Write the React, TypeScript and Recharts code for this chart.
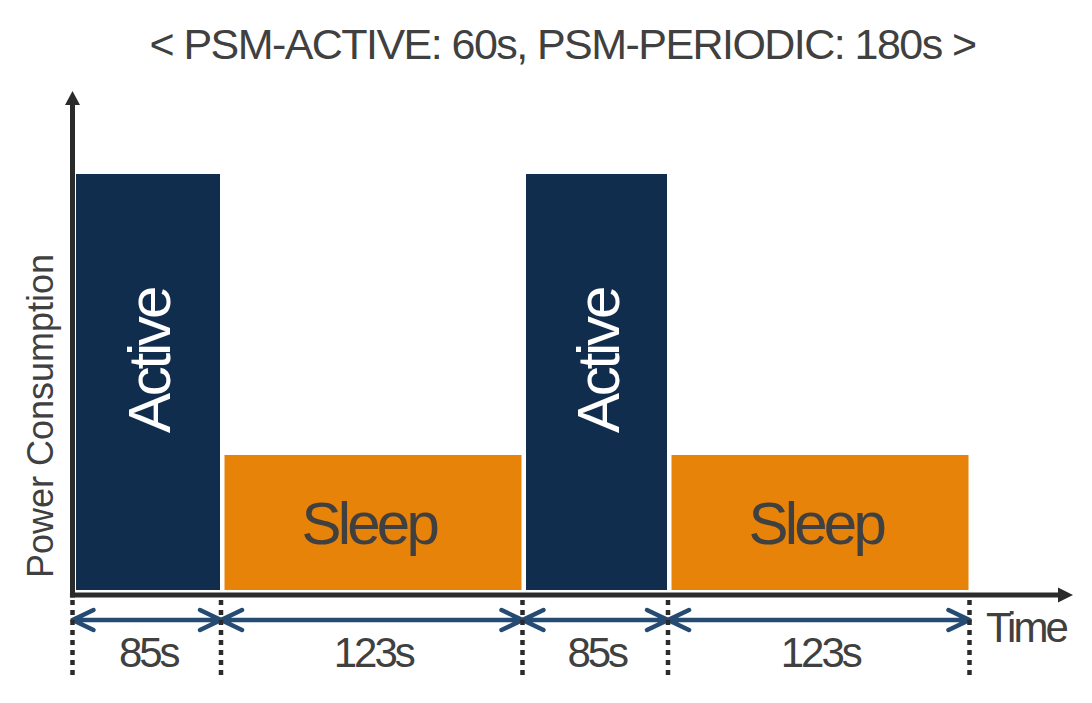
import React from 'react';
import { ComposedChart, XAxis, YAxis, ReferenceArea, ReferenceLine, ReferenceDot } from 'recharts';

// ---- data ----
const titleText = '< PSM-ACTIVE: 60s, PSM-PERIODIC: 180s >';
const xAxisTitle = 'Time';
const yAxisTitle = 'Power Consumption';
const phaseNames = ['Active', 'Sleep', 'Active', 'Sleep'];
const phaseStart = [0, 0.99, 3, 3.97];
const phaseEnd = [0.99, 3, 3.97, 5.98];
const phasePower = [100, 33.1, 100, 33.1];
const durationLabels = ['85s', '123s', '85s', '123s'];
const boundaries = [0, 0.99, 3, 3.97, 5.98];

// ---- layout constants ----
const X_DOMAIN: [number, number] = [0, 6.67];
const Y_DOMAIN: [number, number] = [-20.95, 119.29];
const AXIS_Y = -0.714;
const ARROW_ROW = [-6.2, -7.14];
const LABEL_ROW = [-11.3, -17.3];
const DOT_TOP = -1.9;
const DOT_BOTTOM = -19.76;
const X_ARROW_END = 6.57;
const Y_ARROW_END = 115.95;

const FONT = '"Liberation Sans", Arial, Helvetica, sans-serif';
const NAVY = '#112d4e';
const ORANGE = '#e8830a';
const GRAY = '#404040';
const AXIS = '#2b2b2b';
const BLUE = '#264b73';

const phaseColor = (name: string) => (name === 'Active' ? NAVY : ORANGE);

const makeBarShape = (name: string) => (p: any) => {
  const cx = p.x + p.width / 2;
  const cy = p.y + p.height / 2;
  const rect = (
    <rect x={p.x + 3.5} y={p.y + 2} width={Math.max(0, p.width - 4.5)} height={Math.max(0, p.height - 4)} fill={phaseColor(name)} />
  );
  if (name === 'Active') {
    const tx = cx + 2;
    const ty = cy - 21;
    return (
      <g>
        {rect}
        <text
          x={tx}
          y={ty}
          dy="0.358em"
          transform={`rotate(-90 ${tx} ${ty})`}
          textAnchor="middle"
          fill="#ffffff"
          fontFamily={FONT}
          fontSize={60}
          letterSpacing={-3.2}
        >
          {name}
        </text>
      </g>
    );
  }
  return (
    <g>
      {rect}
      <text x={cx - 3} y={cy} dy="0.358em" textAnchor="middle" fill={GRAY} fontFamily={FONT} fontSize={60} letterSpacing={-3.75}>
        {name}
      </text>
    </g>
  );
};

const doubleArrowShape = (p: any) => {
  const cy = p.y + p.height / 2;
  const x0 = p.x;
  const x1 = p.x + p.width;
  const d = `M${x0} ${cy} L${x1} ${cy} M${x0 + 21} ${cy - 10} L${x0} ${cy} L${x0 + 21} ${cy + 10} M${x1 - 21} ${cy - 10} L${x1} ${cy} L${x1 - 21} ${cy + 10}`;
  return <path d={d} fill="none" stroke={BLUE} strokeWidth={4.5} strokeLinecap="round" strokeLinejoin="round" />;
};

const makeDurationShape = (text: string) => (p: any) => {
  const cx = p.x + p.width / 2 + 1.5;
  const cy = p.y + p.height / 2;
  return (
    <text x={cx} y={cy} dy="0.358em" textAnchor="middle" fill={GRAY} fontFamily={FONT} fontSize={42} letterSpacing={-3}>
      {text}
    </text>
  );
};

const rightArrowHead = (p: any) => (
  <polygon points={`${p.cx},${p.cy} ${p.cx - 15},${p.cy - 7.5} ${p.cx - 15},${p.cy + 7.5}`} fill={AXIS} />
);
const upArrowHead = (p: any) => (
  <polygon points={`${p.cx},${p.cy} ${p.cx - 7.5},${p.cy + 14} ${p.cx + 7.5},${p.cy + 14}`} fill={AXIS} />
);

export default function App() {
  return (
    <div style={{ position: 'absolute', left: 0, top: 0, background: '#ffffff' }}>
      <ComposedChart width={1092} height={703} data={[]} margin={{ top: 91, right: 19, bottom: 23, left: 72.5 }}>
        <XAxis type="number" dataKey="x" domain={X_DOMAIN} allowDataOverflow hide />
        <YAxis type="number" dataKey="y" domain={Y_DOMAIN} allowDataOverflow hide />

        {phaseNames.map((name, i) => (
          <ReferenceArea
            key={`phase-${i}`}
            x1={phaseStart[i]}
            x2={phaseEnd[i]}
            y1={0}
            y2={phasePower[i]}
            fill={phaseColor(name)}
            fillOpacity={1}
            shape={makeBarShape(name)}
          />
        ))}

        {boundaries.map((b, i) => (
          <ReferenceLine
            key={`dot-${i}`}
            segment={[
              { x: b, y: DOT_TOP },
              { x: b, y: DOT_BOTTOM },
            ]}
            stroke={AXIS}
            strokeWidth={4.5}
            strokeDasharray="5 5"
          />
        ))}

        <ReferenceLine
          segment={[
            { x: -0.017, y: AXIS_Y },
            { x: X_ARROW_END, y: AXIS_Y },
          ]}
          stroke={AXIS}
          strokeWidth={5}
          ifOverflow="visible"
        />
        <ReferenceLine
          segment={[
            { x: 0, y: -1.31 },
            { x: 0, y: Y_ARROW_END },
          ]}
          stroke={AXIS}
          strokeWidth={5}
        />
        <ReferenceDot x={X_DOMAIN[1]} y={AXIS_Y} r={8} shape={rightArrowHead} ifOverflow="visible" />
        <ReferenceDot x={0} y={Y_DOMAIN[1]} r={8} shape={upArrowHead} ifOverflow="visible" />

        {durationLabels.map((lab, i) => (
          <ReferenceArea
            key={`arrow-${i}`}
            x1={boundaries[i]}
            x2={boundaries[i + 1]}
            y1={ARROW_ROW[0]}
            y2={ARROW_ROW[1]}
            shape={doubleArrowShape}
          />
        ))}
        {durationLabels.map((lab, i) => (
          <ReferenceArea
            key={`lab-${i}`}
            x1={boundaries[i]}
            x2={boundaries[i + 1]}
            y1={LABEL_ROW[0]}
            y2={LABEL_ROW[1]}
            shape={makeDurationShape(lab)}
          />
        ))}

        <text x={562.5} y={59} textAnchor="middle" fill={GRAY} fontFamily={FONT} fontSize={43} letterSpacing={-1.55}>
          {titleText}
        </text>
        <text x={986} y={642} textAnchor="start" fill={GRAY} fontFamily={FONT} fontSize={42} letterSpacing={-3}>
          {xAxisTitle}
        </text>
        <text
          x={52.8}
          y={416}
          transform="rotate(-90 52.8 416)"
          textAnchor="middle"
          fill={GRAY}
          fontFamily={FONT}
          fontSize={36}
        >
          {yAxisTitle}
        </text>
      </ComposedChart>
    </div>
  );
}
